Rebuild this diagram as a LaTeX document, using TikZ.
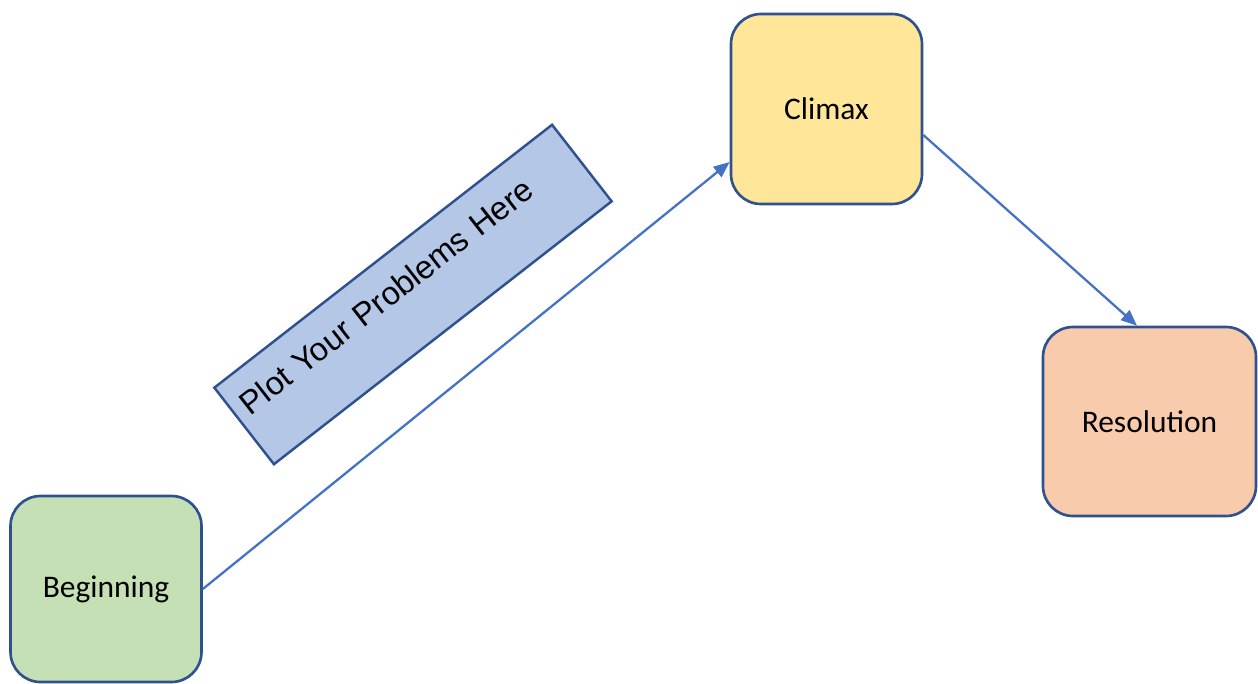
\documentclass[tikz,border=0pt]{standalone}
\usepackage{fontspec}
\setmainfont{Carlito}
\newfontfamily\arialfont{Liberation Sans}
\usetikzlibrary{arrows.meta}
\definecolor{boxline}{HTML}{2F528F}
\definecolor{arrowblue}{HTML}{4472C4}
\definecolor{greenfill}{HTML}{C5E0B4}
\definecolor{yellowfill}{HTML}{FFE699}
\definecolor{orangefill}{HTML}{F8CBAD}
\definecolor{bluefill}{HTML}{B4C7E7}

\begin{document}
\begin{tikzpicture}
	\useasboundingbox (0,0) rectangle (25.16,-13.68);
	\begin{scope}[every node/.style={draw=boxline,line width=1.5pt,rounded corners=0.6cm,font=\fontsize{17.9}{21}\selectfont}]
		\node[fill=greenfill,minimum width=3.82cm,minimum height=3.72cm] (Beginning) at (2.12,-11.78) {Beginning};
		\node[fill=yellowfill,minimum width=3.82cm,minimum height=3.80cm] (Climax) at (16.53,-2.18) {Climax};
		\node[fill=orangefill,minimum width=4.26cm,minimum height=3.78cm] (Resolution) at (22.99,-8.43) {Resolution};
	\end{scope}
	
	% tilted note over the rising line
	\node[draw=boxline,line width=1.4pt,fill=bluefill,rotate=37.9,minimum width=8.56cm,minimum height=1.94cm,
		inner xsep=0.21cm,text width=8.14cm,align=left,text height=0.5cm,text depth=0.64cm,
		font=\arialfont\fontsize{18.5}{22}\selectfont] (Problems) at (8.26,-5.89) {Plot Your Problems Here};
	
	\begin{scope}[every edge/.style={draw=arrowblue,line width=1.3pt}]
		\path [-{Triangle[length=0.32cm,width=0.26cm]}] (Beginning.east) edge ([yshift=-1.06cm]Climax.west);
		\path [-{Triangle[length=0.32cm,width=0.26cm]}] ([yshift=-0.52cm]Climax.east) edge ([xshift=-0.25cm]Resolution.north);
	\end{scope}
\end{tikzpicture}
\end{document}
